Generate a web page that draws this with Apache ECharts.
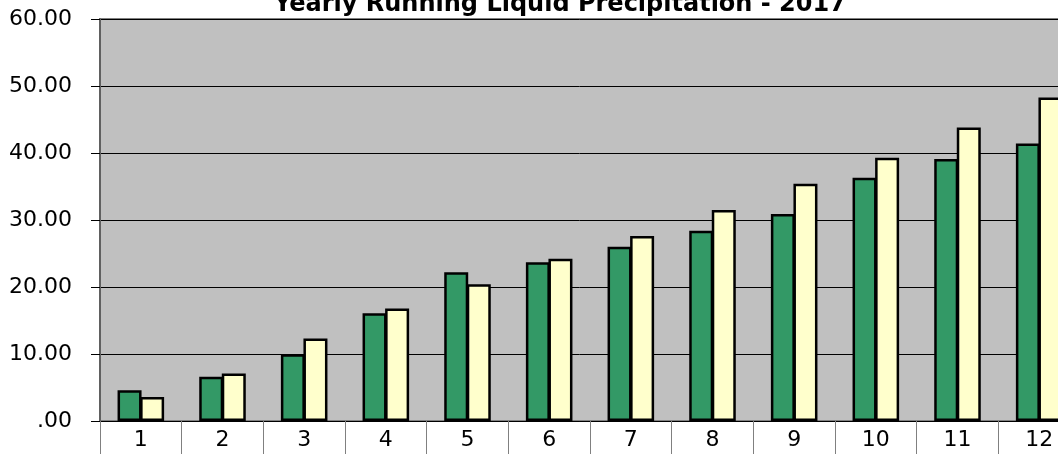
<!DOCTYPE html>
<html>
    <head>
        <meta charset="UTF-8">
        <title>Yearly Running Liquid Precipitation - 2017</title>
        <script type="text/javascript" src="https://cdn.jsdelivr.net/npm/echarts@6/dist/echarts.min.js"></script>
    </head>
    <body style="margin: 0; overflow: hidden;">
        <div id="container" style="width: 1058px; height: 454px;"></div>
    </body>
    <script type="text/javascript">
        var dom = document.getElementById("container");
        var myChart = echarts.init(dom);

        // month numbers on the x axis
        var months = ['1', '2', '3', '4', '5', '6', '7', '8', '9', '10', '11', '12'];
        // running totals
        var actual2017 = [4.6, 6.6, 9.95, 16.1, 22.2, 23.7, 26.0, 28.4, 30.9, 36.3, 39.1, 41.4];
        var normal = [3.6, 7.1, 12.3, 16.8, 20.4, 24.2, 27.6, 31.5, 35.4, 39.3, 43.8, 48.3];
        var yTicks = [0, 10, 20, 30, 40, 50, 60];

        var labelFont = 'DejaVu Sans';

        var option = {
            animation: false,
            title: {
                text: 'Yearly Running Liquid Precipitation - 2017',
                left: 555,
                textAlign: 'center',
                top: -12,
                textStyle: {
                    fontFamily: labelFont,
                    fontWeight: 'bold',
                    fontSize: 24,
                    color: '#000'
                }
            },
            // plot runs past the right edge of the window, as in the original
            grid: {
                left: 100,
                top: 19,
                width: 980,
                bottom: 33,
                outerBoundsMode: 'none',
                show: true,
                backgroundColor: '#C0C0C0',
                borderColor: '#808080',
                borderWidth: 2
            },
            xAxis: {
                type: 'category',
                data: months,
                axisLine: { lineStyle: { color: '#000', width: 1 } },
                axisTick: {
                    show: true,
                    length: 40,
                    lineStyle: { color: '#808080', width: 1 }
                },
                axisLabel: {
                    margin: 8,
                    fontFamily: labelFont,
                    fontSize: 22,
                    color: '#000'
                }
            },
            yAxis: {
                type: 'value',
                min: yTicks[0],
                max: yTicks[yTicks.length - 1],
                interval: 10,
                axisLine: { show: true, lineStyle: { color: '#606060', width: 2 } },
                axisTick: { show: true, length: 9, lineStyle: { color: '#000' } },
                splitLine: { lineStyle: { color: '#000', width: 1 } },
                axisLabel: {
                    margin: 28,
                    fontFamily: labelFont,
                    fontSize: 22,
                    color: '#000',
                    formatter: function (v) {
                        return v === 0 ? '.00' : v.toFixed(2);
                    }
                }
            },
            series: [
                {
                    name: '2017',
                    type: 'bar',
                    data: actual2017,
                    barWidth: 24,
                    barGap: '-6%',
                    itemStyle: { color: '#339966', borderColor: '#000', borderWidth: 2.5 }
                },
                {
                    name: 'Normal',
                    type: 'bar',
                    data: normal,
                    barWidth: 24,
                    barGap: '-6%',
                    itemStyle: { color: '#FFFFCC', borderColor: '#000', borderWidth: 2.5 }
                }
            ]
        };

        if (option && typeof option === 'object') {
            myChart.setOption(option);
        }
    </script>
</html>
